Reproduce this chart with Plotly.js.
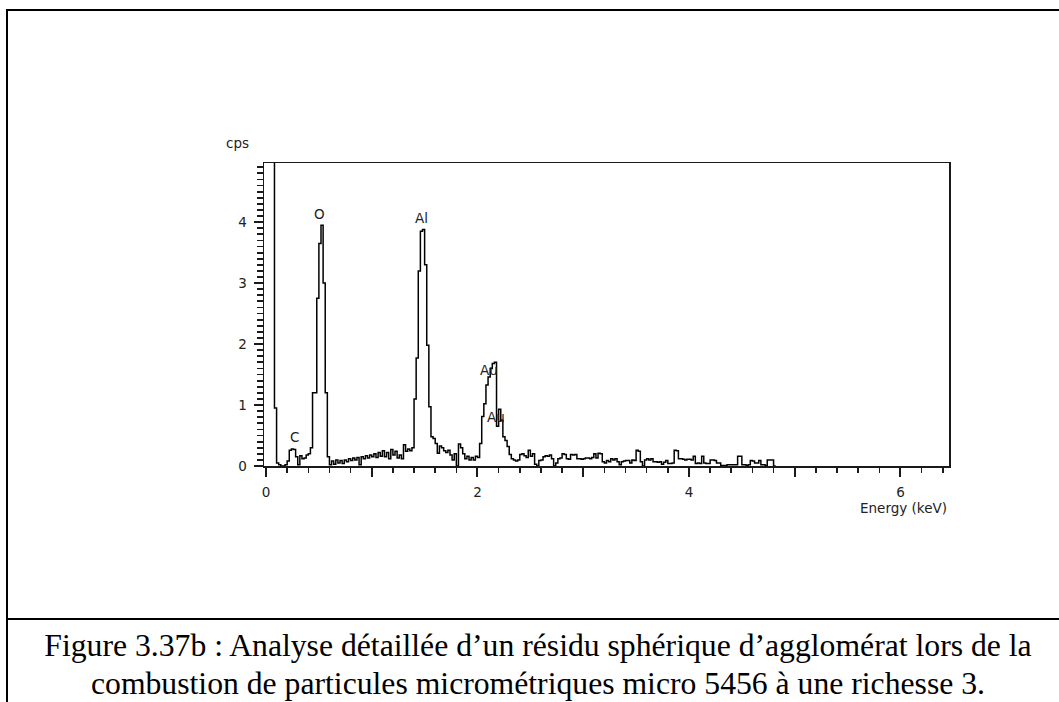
<!DOCTYPE html>
<html>
<head>
<meta charset="utf-8">
<script src="https://cdn.plot.ly/plotly-3.0.1.min.js"></script>
<style>
  html, body { margin: 0; padding: 0; background: #fff; }
  body { width: 1059px; height: 702px; overflow: hidden; position: relative; }
  #chart { position: absolute; left: 0; top: 0; width: 1059px; height: 702px; }
  .frame { position: absolute; left: 6px; top: 9px; width: 1200px; height: 800px;
           border-left: 2px solid #000; border-top: 2px solid #000; box-sizing: border-box; pointer-events: none; }
  .sep { position: absolute; left: 6px; top: 618px; width: 1200px; height: 2px; background: #000; }
  .caption { position: absolute; left: 0; top: 627px; width: 1076px; text-align: center;
             font-family: "Liberation Serif", "Times New Roman", serif; font-size: 31.7px; line-height: 38px; color: #000; white-space: nowrap; }
</style>
</head>
<body>
<div class="frame"></div>
<div class="sep"></div>
<div id="chart"></div>
<div class="caption">Figure 3.37b : Analyse détaillée d’un résidu sphérique d’agglomérat lors de la<br>combustion de particules micrométriques micro 5456 à une richesse 3.</div>
<script>
// ---- Spectrum data (EDX, channels of 0.02 keV starting at 0.06 keV) ----
const channelWidthKeV = 0.02;
const firstChannelKeV = 0.06;

const cps_0_to_1 = [6, 0.95, 0.05, 0.02, 0, 0, 0.02, 0.08, 0.26, 0.28, 0.27, 0.15, 0.02, 0.17, 0.12, 0.13, 0.18, 0.2, 0.3, 1.2, 1.2, 2.75, 3.65, 3.95, 3.0, 1.2, 0.15, 0.02, 0.08, 0.03, 0.1, 0.05, 0.09, 0.04, 0.1, 0.07, 0.12, 0.09, 0.13, 0.1, 0.14, 0.02, 0.15, 0.12, 0.17, 0.13, 0.18];
const cps_1_to_2 = [0.15, 0.2, 0.14, 0.22, 0.16, 0.25, 0.15, 0.22, 0.12, 0.27, 0.18, 0.24, 0.13, 0.18, 0.12, 0.35, 0.24, 0.28, 0.25, 0.3, 1.1, 1.77, 3.2, 3.85, 3.88, 3.3, 1.98, 0.97, 0.48, 0.45, 0.37, 0.21, 0.33, 0.3, 0.25, 0.22, 0.26, 0.18, 0.1, 0.2, 0, 0.36, 0.3, 0.2, 0.12, 0.16, 0.1, 0.14, 0.1, 0.16];
const cps_2_to_3 = [0.14, 0.37, 0.81, 1.02, 1.33, 1.46, 1.6, 1.68, 1.7, 0.65, 0.93, 0.75, 0.48, 0.42, 0.32, 0.19, 0.12, 0.1, 0.08, 0.1, 0.19, 0.2, 0.17, 0.14, 0.26, 0.16, 0.2, 0.03, 0, 0.09, 0.1, 0.15, 0.17, 0.16, 0.18, 0.12, 0, 0.05, 0.12, 0.13, 0.2, 0.19, 0.12, 0.11, 0.19, 0.18, 0.19, 0.12, 0.12, 0.11];
const cps_3_to_4 = [0.12, 0.13, 0.13, 0.12, 0.14, 0.2, 0.13, 0.21, 0.2, 0.07, 0.05, 0.09, 0.07, 0.12, 0.1, 0.12, 0.07, 0.02, 0.07, 0.08, 0.09, 0.09, 0.05, 0.1, 0.09, 0.26, 0.24, 0.07, 0, 0.1, 0.12, 0.1, 0.12, 0.07, 0.07, 0.06, 0.07, 0.03, 0.06, 0.09, 0.04, 0.04, 0.05, 0.26, 0.25, 0.12, 0.12, 0.11, 0.1, 0.11];
const cps_4_to_5 = [0.11, 0.1, 0.16, 0.04, 0.05, 0.04, 0.16, 0.05, 0.04, 0.04, 0.1, 0.1, 0.09, 0.05, 0.05, 0.01, 0.01, 0.01, 0.02, 0.02, 0.02, 0.02, 0.02, 0.16, 0.16, 0.02, 0.02, 0.01, 0.02, 0.09, 0.08, 0.05, 0.05, 0.09, 0.02, 0.02, 0.01, 0.1, 0.1, 0.1, 0];

// ---- Peak labels ----
const peakLabels = ['C', 'O', 'Al', 'Au', 'Au'];
const peakLabelKeV = [0.265, 0.504, 1.472, 2.11, 2.175];
const peakLabelCps = [0.475, 4.14, 4.06, 1.57, 0.81];

// ---- Axis tick labels (x: labelled every 2 keV, ticked every 1 keV) ----
const xHiddenTickLabels = { '1': ' ', '3': ' ', '5': ' ' };

// build channel arrays
const cps = [].concat(cps_0_to_1, cps_1_to_2, cps_2_to_3, cps_3_to_4, cps_4_to_5);
const energy = cps.map((_, i) => +(firstChannelKeV + i * channelWidthKeV).toFixed(3));
energy.push(+(firstChannelKeV + cps.length * channelWidthKeV).toFixed(3));
cps.push(0);

const axisColor = '#1a1a1a';
const font = { family: '"DejaVu Sans", Arial, sans-serif', size: 13.5, color: '#222' };
const xRange = [-0.019, 6.459];
const yRange = [0, 4.97];

const trace = {
  type: 'scatter', mode: 'lines', x: energy, y: cps,
  line: { shape: 'hv', color: '#000', width: 1.5 },
  hoverinfo: 'skip'
};

const annotations = peakLabels.map((t, i) => ({
  text: t, x: peakLabelKeV[i], y: peakLabelCps[i], xref: 'x', yref: 'y',
  showarrow: false, xanchor: 'center', yanchor: 'middle', font: font
}));
annotations.push({ text: 'cps', xref: 'paper', yref: 'paper', x: -0.039, y: 1.066,
  showarrow: false, xanchor: 'center', yanchor: 'middle', font: font });
annotations.push({ text: 'Energy (keV)', xref: 'paper', yref: 'paper', x: 1.0, y: -0.139,
  showarrow: false, xanchor: 'right', yanchor: 'middle', font: font });

const layout = {
  width: 1059, height: 702,
  margin: { l: 264, r: 110, t: 163, b: 236, pad: 0 },
  paper_bgcolor: 'rgba(0,0,0,0)', plot_bgcolor: '#fff',
  showlegend: false,
  font: font,
  xaxis: {
    range: xRange, tickmode: 'linear', tick0: 0, dtick: 1,
    labelalias: xHiddenTickLabels,
    ticks: 'outside', ticklen: 9, tickwidth: 2, tickcolor: axisColor,
    showline: true, linecolor: axisColor, linewidth: 1.5, mirror: true,
    showgrid: false, zeroline: false, tickfont: font, ticklabelstandoff: 4,
    minor: { dtick: 0.2, ticks: 'outside', ticklen: 5, tickwidth: 1.6, tickcolor: axisColor, showgrid: false },
    fixedrange: true
  },
  yaxis: {
    range: yRange, tickmode: 'linear', tick0: 0, dtick: 1,
    ticks: 'outside', ticklen: 9, tickwidth: 2, tickcolor: axisColor,
    showline: true, linecolor: axisColor, linewidth: 1.5, mirror: true,
    showgrid: false, zeroline: false, tickfont: font, ticklabelstandoff: 4,
    minor: { dtick: 0.1, ticks: 'outside', ticklen: 6, tickwidth: 1.8, tickcolor: axisColor, showgrid: false },
    fixedrange: true
  },
  annotations: annotations
};

Plotly.newPlot('chart', [trace], layout, { displayModeBar: false, staticPlot: true });
</script>
</body>
</html>
